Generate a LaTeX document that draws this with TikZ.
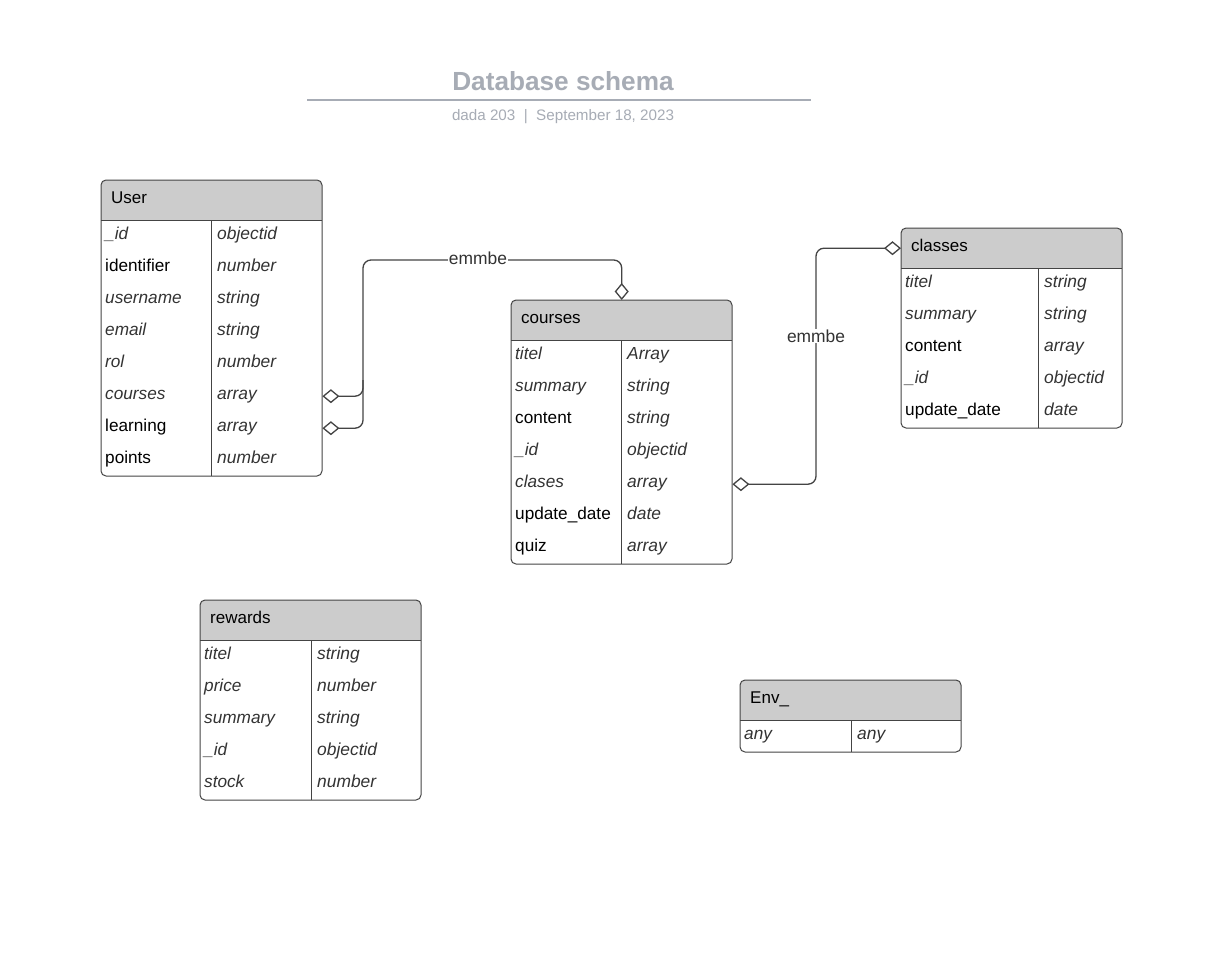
\documentclass[tikz,border=0pt]{standalone}
\usepackage{fontspec}
\setmainfont{Liberation Sans}
\usetikzlibrary{arrows.meta}
\definecolor{titlegray}{HTML}{A7ACB5}
\definecolor{hdrgray}{HTML}{CCCCCC}
\definecolor{ink}{HTML}{333333}
\definecolor{edgec}{HTML}{444444}
\tikzset{
  tline/.style={draw=edgec, line width=1pt},
  hdr/.style={inner xsep=10pt, inner ysep=0pt, minimum width=221pt, minimum height=40pt,
    text width=201pt, align=left, text height=11.5pt, text depth=4.5pt,
    font=\fontsize{17}{20}\selectfont, text=black},
  row/.style={inner xsep=4pt, inner ysep=0pt, minimum width=221pt, minimum height=32pt,
    text width=213pt, align=left, text height=11.5pt, text depth=4.5pt,
    font=\fontsize{17.2}{20}\selectfont},
  typ/.style={inner sep=0pt, text height=11.5pt, text depth=4.5pt,
    font=\fontsize{17.4}{20}\selectfont\itshape, text=ink},
  conn/.style={draw=edgec, line width=1.3pt, rounded corners=8pt},
  dia/.tip={Diamond[open, length=17pt, width=14pt, line width=1.3pt]},
  lbl/.style={fill=white, inner xsep=1pt, inner ysep=1pt, text=ink,
    font=\fontsize{17.4}{20}\selectfont},
}
\newcommand{\ertable}[7]{% name, x, y, split, title, nrows, list
  \pgfmathsetmacro\tbot{#3+40+32*#6}
  \begin{scope}
    \clip[rounded corners=5pt] (#2,#3) rectangle (#2+221,\tbot);
    \fill[hdrgray] (#2,#3) rectangle (#2+221,#3+40);
  \end{scope}
  \node[hdr, anchor=north west] (#1-h) at (#2,#3) {#5};
  \foreach \fn/\ft/\fs [count=\i] in {#7} {
    \node[row, anchor=north west] (#1-\i) at ({#2}, {#3+8+32*\i}) {\fs\fn};
    \node[typ, anchor=west] at ({#2+#4+6}, {#3+24+32*\i}) {\ft};
  }
  \draw[tline, rounded corners=5pt] (#2,#3) rectangle (#2+221,\tbot);
  \draw[tline] (#2,#3+40) -- (#2+221,#3+40);
  \draw[tline] (#2+#4,#3+40) -- (#2+#4,\tbot);
}
\newcommand{\myit}{\itshape\color{ink}}
\newcommand{\myup}{\upshape\color{black}}
\begin{document}
\begin{tikzpicture}[x=1pt,y=-1pt]
\useasboundingbox (0,0) rectangle (1223,955);
\fill[white] (0,0) rectangle (1223,955);

% title
\node[text=titlegray, font=\fontsize{26.2}{30}\selectfont\bfseries] (title) at (563,81) {Database schema};
\coordinate (tl) at (307,100);
\coordinate (tr) at (811,100);
\draw[titlegray, line width=2pt] (tl) -- (tr);
\node[text=titlegray, font=\fontsize{15.2}{18}\selectfont] (sub) at (563,117) {dada 203\ \ |\ \ September 18, 2023};

% tables
\ertable{user}{101}{180}{110}{User}{8}{%
  \_id/objectid/\myit, identifier/number/\myup, username/string/\myit, email/string/\myit,
  rol/number/\myit, courses/array/\myit, learning/array/\myup, points/number/\myup}
\ertable{courses}{511}{300}{110}{courses}{7}{%
  titel/Array/\myit, summary/string/\myit, content/string/\myup, \_id/objectid/\myit,
  clases/array/\myit, update\_date/date/\myup, quiz/array/\myup}
\ertable{classes}{901}{228}{137}{classes}{5}{%
  titel/string/\myit, summary/string/\myit, content/array/\myup, \_id/objectid/\myit,
  update\_date/date/\myup}
\ertable{rewards}{200}{600}{111}{rewards}{5}{%
  titel/string/\myit, price/number/\myit, summary/string/\myit, \_id/objectid/\myit,
  stock/number/\myit}
\ertable{env}{740}{680}{111}{Env\_}{1}{any/any/\myit}

% connectors
\coordinate (bend1) at (363,260);
\coordinate (join2) at (363,380);
\coordinate (bend3) at (816,350);
\draw[conn, dia-dia] (user-6.east) -| (bend1) -| (courses-h.north);
\draw[conn, dia-] (user-7.east) -| (join2);
\draw[conn, dia-dia] (courses-5.east) -| (bend3) |- (classes-h.west);
\node[lbl] (l1) at (478,258) {emmbe};
\node[lbl] (l2) at (816,336) {emmbe};
\end{tikzpicture}
\end{document}
